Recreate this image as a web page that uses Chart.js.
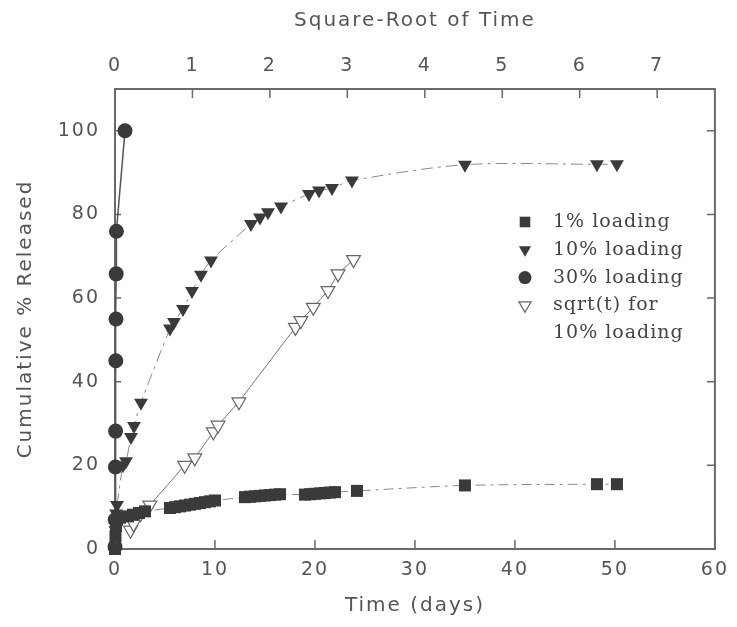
<!DOCTYPE html>
<html>
<head>
<meta charset="utf-8">
<script src="https://cdn.jsdelivr.net/npm/chart.js@4"></script>
<style>
  html, body { margin: 0; padding: 0; background: #fff; }
</style>
</head>
<body>
<canvas id="grafico" width="737" height="627"></canvas>
<script>
// 1% loading (filled squares) - time in days vs cumulative % released
const dias1 = [0, 0.05, 0.1, 0.2, 0.5, 1.3, 1.8, 2.4, 3.0, 5.5, 6.0, 6.5, 7.0, 7.5, 8.0, 8.5, 9.0, 9.5, 10.0,
  13.0, 13.5, 14.0, 14.5, 15.0, 15.5, 16.0, 16.5, 19.0, 19.5, 20.0, 20.5, 21.0, 21.5, 22.0, 24.2, 35.0, 48.2, 50.2];
const liberado1 = [0, 3, 5.5, 7, 7.5, 7.8, 8.2, 8.6, 9.0, 9.8, 10.0, 10.2, 10.4, 10.6, 10.8, 11.0, 11.2, 11.4, 11.6,
  12.4, 12.5, 12.6, 12.7, 12.8, 12.9, 13.0, 13.1, 13.0, 13.1, 13.2, 13.3, 13.4, 13.5, 13.6, 13.9, 15.2, 15.5, 15.5];

// 10% loading (filled down triangles)
const dias10 = [0.04, 0.06, 0.11, 0.2, 0.8, 1.1, 1.6, 1.9, 2.6, 5.5, 5.9, 6.8, 7.7, 8.6, 9.6,
  13.6, 14.5, 15.3, 16.6, 19.4, 20.4, 21.7, 23.7, 35.0, 48.2, 50.2];
const liberado10 = [4.5, 6, 8.5, 10.5, 20, 21, 26.8, 29.4, 35, 52.7, 54.3, 57.4, 61.7, 65.6, 69,
  77.7, 79.3, 80.5, 81.9, 84.9, 85.7, 86.3, 88.1, 91.9, 92, 92];

// 30% loading (filled circles)
const dias30 = [0, 0.02, 0.04, 0.06, 0.08, 0.1, 0.12, 0.14, 1.0];
const liberado30 = [0.5, 7, 19.6, 28.2, 45, 55, 65.8, 76, 100];

// sqrt(t) for 10% loading (open down triangles, top axis)
const raiz10 = [0.2, 0.24, 0.33, 0.45, 0.9, 1.03, 1.27, 1.33, 1.6, 2.33, 2.40, 2.56, 2.75, 2.88, 3.08];
const liberadoRaiz = [4.5, 6, 8.5, 10.5, 20, 21.8, 28, 29.6, 35.2, 53, 54.6, 57.8, 61.8, 65.8, 69.2];

const rotulos = ["1% loading", "10% loading", "30% loading", "sqrt(t) for\n10% loading"];

const pares = (xs, ys) => xs.map((x, i) => ({ x: x, y: ys[i] }));

const corTexto = "#555";
const corMarca = "#3a3a3a";
const fonteEixo = { family: "'DejaVu Sans'", size: 19 };

// wide letter spacing like the original plotting font
const espacamento = {
  id: "espacamento",
  beforeDraw(chart) { chart.ctx.letterSpacing = "2px"; }
};

// box around the plot + inward ticks
const moldura = {
  id: "moldura",
  beforeDatasetsDraw(chart) {
    const { ctx, chartArea: a, scales } = chart;
    ctx.save();
    ctx.strokeStyle = "#6a6a6a";
    ctx.lineWidth = 2;
    ctx.strokeRect(a.left, a.top, a.right - a.left, a.bottom - a.top);
    ctx.lineWidth = 1.5;
    ctx.beginPath();
    scales.x.ticks.forEach(t => {
      const px = scales.x.getPixelForValue(t.value);
      ctx.moveTo(px, a.bottom); ctx.lineTo(px, a.bottom - 9);
    });
    scales.x2.ticks.forEach(t => {
      const px = scales.x2.getPixelForValue(t.value);
      ctx.moveTo(px, a.top); ctx.lineTo(px, a.top + 9);
    });
    scales.y.ticks.forEach(t => {
      const py = scales.y.getPixelForValue(t.value);
      ctx.moveTo(a.left, py); ctx.lineTo(a.left + 6, py);
      ctx.moveTo(a.right, py); ctx.lineTo(a.right - 8, py);
    });
    ctx.stroke();
    ctx.restore();
  }
};

// legend drawn inside the plot, serif text
const legenda = {
  id: "legenda",
  afterDraw(chart) {
    const { ctx, chartArea: a } = chart;
    let y = a.top + 133;
    ctx.save();
    ctx.font = "19px 'DejaVu Serif'";
    ctx.textBaseline = "middle";
    ctx.letterSpacing = "1px";
    chart.data.datasets.forEach(ds => {
      ctx.fillStyle = ds.pointBackgroundColor;
      ctx.strokeStyle = ds.pointBorderColor;
      ctx.lineWidth = ds.pointBorderWidth;
      Chart.helpers.drawPoint(ctx, {
        pointStyle: ds.pointStyle,
        rotation: ds.pointRotation || 0,
        radius: ds.pointRadius - 1,
        borderWidth: ds.pointBorderWidth
      }, a.left + 410, y);
      ctx.fillStyle = "#444";
      ds.label.split("\n").forEach(linha => {
        ctx.fillText(linha, a.left + 438, y);
        y += 27.8;
      });
    });
    ctx.restore();
  }
};

new Chart(document.getElementById("grafico"), {
  type: "scatter",
  data: {
    datasets: [
      {
        label: rotulos[0],
        data: pares(dias1, liberado1),
        xAxisID: "x",
        pointStyle: "rect",
        pointRadius: 8.5,
        pointBackgroundColor: corMarca,
        pointBorderColor: corMarca,
        pointBorderWidth: 0,
        showLine: true,
        borderColor: "#8a8a8a",
        borderWidth: 1,
        borderDash: [10, 5, 3, 5],
        tension: 0.3,
        clip: false
      },
      {
        label: rotulos[1],
        data: pares(dias10, liberado10),
        xAxisID: "x",
        pointStyle: "triangle",
        pointRotation: 180,
        pointRadius: 8,
        pointBackgroundColor: corMarca,
        pointBorderColor: corMarca,
        pointBorderWidth: 0,
        showLine: true,
        borderColor: "#8a8a8a",
        borderWidth: 1,
        borderDash: [12, 5, 3, 5],
        tension: 0.3,
        clip: false
      },
      {
        label: rotulos[2],
        data: pares(dias30, liberado30),
        xAxisID: "x",
        pointStyle: "circle",
        pointRadius: 7.5,
        pointBackgroundColor: corMarca,
        pointBorderColor: corMarca,
        pointBorderWidth: 0,
        showLine: true,
        borderColor: "#555",
        borderWidth: 1.5,
        tension: 0,
        clip: false
      },
      {
        label: rotulos[3],
        data: pares(raiz10, liberadoRaiz),
        xAxisID: "x2",
        pointStyle: "triangle",
        pointRotation: 180,
        pointRadius: 8,
        pointBackgroundColor: "#fff",
        pointBorderColor: "#666",
        pointBorderWidth: 1.2,
        showLine: true,
        borderColor: "#777",
        borderWidth: 1,
        tension: 0,
        clip: false
      }
    ]
  },
  options: {
    responsive: false,
    animation: false,
    layout: { padding: { right: 22 } },
    plugins: {
      legend: { display: false },
      tooltip: { enabled: false }
    },
    scales: {
      x: {
        type: "linear",
        position: "bottom",
        min: 0,
        max: 60,
        ticks: { stepSize: 10, color: corTexto, font: fonteEixo, padding: 10, maxRotation: 0 },
        grid: { display: false, drawTicks: false },
        border: { display: false },
        title: { display: true, text: "Time (days)", color: corTexto, font: { family: "'DejaVu Sans'", size: 20 }, padding: { bottom: 9 } },
        afterFit: s => { s.height = 78; }
      },
      x2: {
        type: "linear",
        position: "top",
        min: 0,
        max: 7.746,
        ticks: { stepSize: 1, includeBounds: false, color: corTexto, font: fonteEixo, padding: 12, maxRotation: 0 },
        grid: { display: false, drawTicks: false },
        border: { display: false },
        title: { display: true, text: "Square-Root of Time", color: corTexto, font: { family: "'DejaVu Sans'", size: 20 }, padding: { top: 9 } },
        afterFit: s => { s.height = 89; }
      },
      y: {
        type: "linear",
        min: 0,
        max: 110,
        ticks: { stepSize: 20, includeBounds: false, color: corTexto, font: fonteEixo, padding: 15 },
        grid: { display: false, drawTicks: false },
        border: { display: false },
        title: { display: true, text: "Cumulative % Released", color: corTexto, font: { family: "'DejaVu Sans'", size: 20 }, padding: { top: 14 } },
        afterFit: s => { s.width = 115; }
      }
    }
  },
  plugins: [espacamento, moldura, legenda]
});
</script>
</body>
</html>
